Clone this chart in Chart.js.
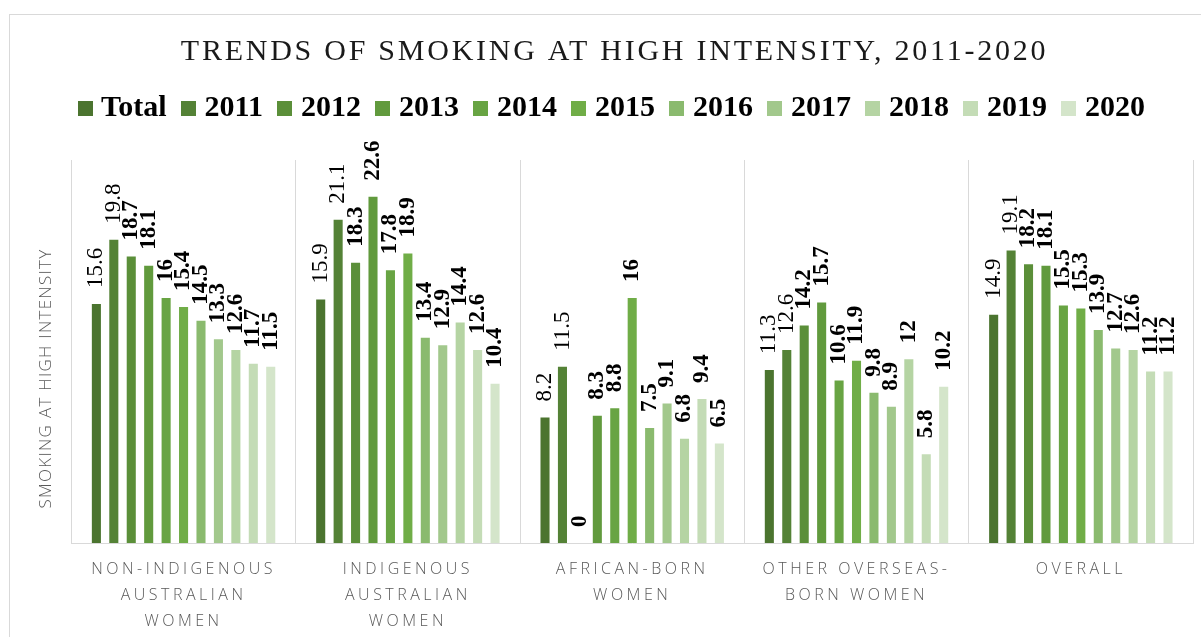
<!DOCTYPE html>
<html>
<head>
<meta charset="utf-8">
<title>Trends of smoking at high intensity, 2011-2020</title>
<script src="https://cdn.jsdelivr.net/npm/chart.js"></script>
<style>
  html, body { margin: 0; padding: 0; background: #fff; overflow: hidden; }
  #frame { position: absolute; left: 9px; top: 14px; width: 1200px; height: 640px; border: 1px solid #d9d9d9; }
  #chart-container { position: absolute; left: 0; top: 0; width: 1201px; height: 637px; }
</style>
</head>
<body>
<div id="frame"></div>
<div id="chart-container"><canvas id="myChart"></canvas></div>
<script>
const categories = [
  ["NON-INDIGENOUS", "AUSTRALIAN", "WOMEN"],
  ["INDIGENOUS", "AUSTRALIAN", "WOMEN"],
  ["AFRICAN-BORN", "WOMEN"],
  ["OTHER OVERSEAS-", "BORN WOMEN"],
  ["OVERALL"],
];
const seriesNames = ["Total", "2011", "2012", "2013", "2014", "2015", "2016", "2017", "2018", "2019", "2020"];

const total = [15.6, 15.9, 8.2, 11.3, 14.9];
const y2011 = [19.8, 21.1, 11.5, 12.6, 19.1];
const y2012 = [18.7, 18.3, 0, 14.2, 18.2];
const y2013 = [18.1, 22.6, 8.3, 15.7, 18.1];
const y2014 = [16, 17.8, 8.8, 10.6, 15.5];
const y2015 = [15.4, 18.9, 16, 11.9, 15.3];
const y2016 = [14.5, 13.4, 7.5, 9.8, 13.9];
const y2017 = [13.3, 12.9, 9.1, 8.9, 12.7];
const y2018 = [12.6, 14.4, 6.8, 12, 12.6];
const y2019 = [11.7, 12.6, 9.4, 5.8, 11.2];
const y2020 = [11.5, 10.4, 6.5, 10.2, 11.2];

const seriesValues = [total, y2011, y2012, y2013, y2014, y2015, y2016, y2017, y2018, y2019, y2020];
const colors = ["#4b742f", "#548236", "#5b8f39", "#619a3d", "#68a443", "#70ad47",
  "#8aba6e", "#a2c88c", "#b5d4a3", "#c4dcb6", "#d4e5ca"];

const serif = '"Liberation Serif", "Times New Roman", serif';
const sans = '"Open Sans", "Noto Sans", sans-serif';

// small square used as the legend marker
function swatch(color) {
  const c = document.createElement("canvas");
  c.width = 15;
  c.height = 15;
  const g = c.getContext("2d");
  g.fillStyle = color;
  g.fillRect(0, 0, 15, 15);
  return c;
}

// rotated value labels above each bar
const barLabels = {
  id: "barLabels",
  afterDatasetsDraw(chart) {
    const ctx = chart.ctx;
    chart.data.datasets.forEach((dataset, i) => {
      const meta = chart.getDatasetMeta(i);
      ctx.save();
      ctx.font = `${i < 2 ? "normal" : "bold"} 23px ${serif}`;
      ctx.fillStyle = "#000";
      ctx.textAlign = "left";
      ctx.textBaseline = "middle";
      meta.data.forEach((bar, j) => {
        ctx.save();
        ctx.translate(bar.x, bar.y - 16);
        ctx.rotate(-Math.PI / 2);
        ctx.fillText(String(dataset.data[j]), 0, 0);
        ctx.restore();
      });
      ctx.restore();
    });
  },
};

function withSpacing(obj, method, spacing, shiftY = 0) {
  const original = obj[method];
  obj[method] = function (...args) {
    const ctx = this.ctx;
    ctx.save();
    ctx.translate(0, shiftY);
    ctx.letterSpacing = spacing;
    original.apply(this, args);
    ctx.restore();
  };
}

// letter spacing on title / axis texts, extra room under the legend
const layoutTweaks = {
  id: "layoutTweaks",
  afterInit(chart) {
    const legend = chart.legend;
    const fit = legend.fit;
    legend.fit = function () {
      fit.call(this);
      this.height += 27;
    };
  },
  beforeDraw(chart) {
    if (chart.$spaced) return;
    chart.$spaced = true;
    withSpacing(chart.titleBlock, "draw", "2.75px");
    withSpacing(chart.scales.x, "drawLabels", "3.5px");
    withSpacing(chart.scales.y, "drawTitle", "1.3px", 27);
  },
};

const ctx = document.getElementById("myChart").getContext("2d");
new Chart(ctx, {
  type: "bar",
  data: {
    labels: categories,
    datasets: seriesNames.map((name, i) => ({
      label: name,
      data: seriesValues[i],
      backgroundColor: colors[i],
      pointStyle: swatch(colors[i]),
      borderWidth: 0,
      categoryPercentage: 0.855,
      barPercentage: 0.52,
    })),
  },
  options: {
    responsive: true,
    maintainAspectRatio: false,
    animation: false,
    layout: { padding: { top: 34, left: 36, right: 8, bottom: -10 } },
    plugins: {
      tooltip: { enabled: false },
      title: {
        display: true,
        text: "TRENDS OF SMOKING AT HIGH INTENSITY, 2011-2020",
        color: "#1a1a1a",
        font: { family: serif, size: 30, weight: "normal" },
        padding: { top: 0, bottom: 2 },
      },
      legend: {
        display: true,
        position: "top",
        labels: {
          usePointStyle: true,
          pointStyleWidth: 2,
          boxHeight: 15,
          padding: 21,
          color: "#000",
          font: { family: serif, size: 30, weight: "bold" },
        },
      },
    },
    scales: {
      x: {
        grid: { display: true, offset: true, color: "#d9d9d9", drawTicks: false },
        border: { display: true, color: "#d9d9d9" },
        ticks: {
          color: "#595959",
          font: { family: sans, size: 16, weight: "300", lineHeight: 1.625 },
          padding: 13,
          maxRotation: 0,
          autoSkip: false,
        },
      },
      y: {
        min: 0,
        max: 25,
        grid: { display: false, drawTicks: false },
        border: { display: true, color: "#d9d9d9" },
        ticks: { display: false },
        title: {
          display: true,
          text: "SMOKING AT HIGH INTENSITY",
          color: "#595959",
          font: { family: sans, size: 17, weight: "300" },
          padding: { top: 0, bottom: 15 },
        },
      },
    },
  },
  plugins: [barLabels, layoutTweaks],
});
</script>
</body>
</html>
